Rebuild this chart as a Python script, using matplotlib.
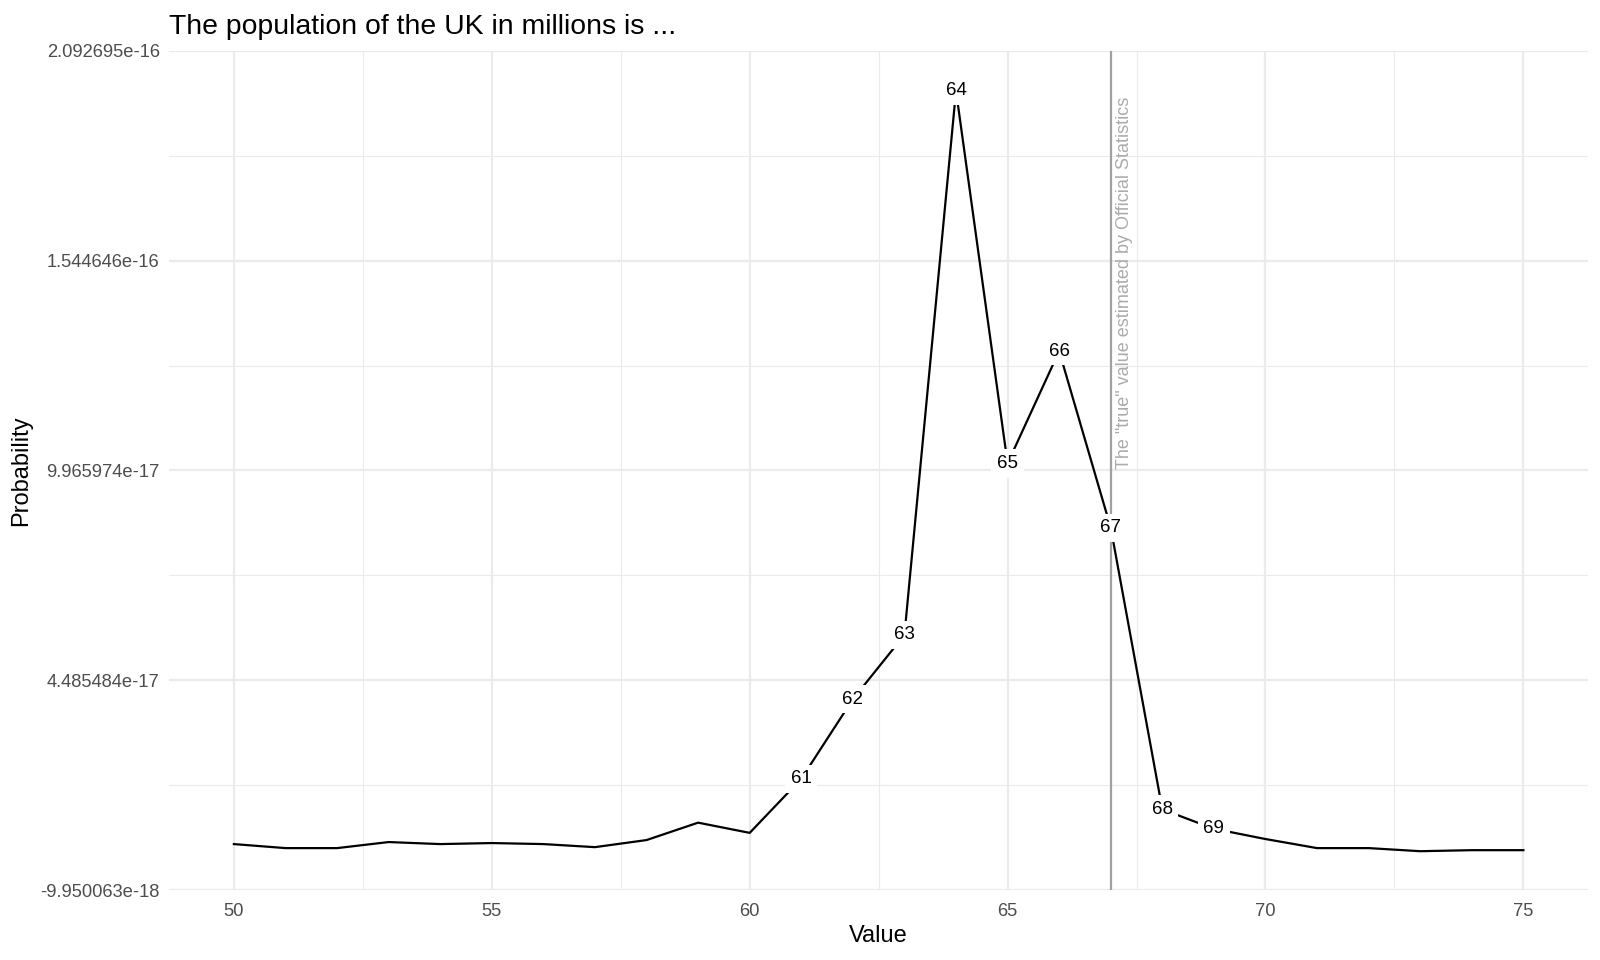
import matplotlib.pyplot as plt
from matplotlib.ticker import FixedLocator

plt.rcParams['font.family'] = ['Liberation Sans', 'DejaVu Sans']

# guesses (millions) and their probability
values = [50, 51, 52, 53, 54, 55, 56, 57, 58, 59, 60, 61, 62,
          63, 64, 65, 66, 67, 68, 69, 70, 71, 72, 73, 74, 75]
probs = [2.05e-18, 1.0e-18, 1.0e-18, 2.58e-18, 2.05e-18, 2.32e-18, 2.05e-18,
         1.25e-18, 3.1e-18, 7.65e-18, 4.98e-18, 1.91e-17, 3.99e-17,
         5.67e-17, 1.9886e-16, 1.0152e-16, 1.3084e-16, 8.47e-17, 1.112e-17,
         6.05e-18, 3.37e-18, 1.0e-18, 1.0e-18, 1.9e-19, 4.6e-19, 4.6e-19]
labelled = [61, 62, 63, 64, 65, 66, 67, 68, 69]

y_ticks = [-9.950063e-18, 4.485484e-17, 9.965974e-17, 1.544646e-16, 2.092695e-16]
y_tick_labels = ["-9.950063e-18", "4.485484e-17", "9.965974e-17",
                 "1.544646e-16", "2.092695e-16"]
x_ticks = [50, 55, 60, 65, 70, 75]
true_value = 67
true_text = 'The "true" value estimated by Official Statistics'

fig = plt.figure(figsize=(16, 9.6), dpi=100)
ax = fig.add_axes([0.1059, 0.0729, 0.8865, 0.874])

ax.set_xlim(48.75, 76.25)
ax.set_ylim(y_ticks[0], y_ticks[-1])

# grid like theme_minimal
ax.xaxis.set_major_locator(FixedLocator(x_ticks))
ax.xaxis.set_minor_locator(FixedLocator([47.5 + 5 * i for i in range(1, 7)]))
ax.yaxis.set_major_locator(FixedLocator(y_ticks))
ax.yaxis.set_minor_locator(FixedLocator(
    [(a + b) / 2 for a, b in zip(y_ticks[:-1], y_ticks[1:])]))
ax.set_yticklabels(y_tick_labels)
ax.grid(which='major', color='#EBEBEB', linewidth=1.6, zorder=0)
ax.grid(which='minor', color='#EBEBEB', linewidth=0.8, zorder=0)
ax.set_axisbelow(True)
for s in ax.spines.values():
    s.set_visible(False)
ax.tick_params(which='both', length=0, labelsize=13.2, labelcolor='#4D4D4D')
ax.tick_params(axis='x', pad=9)
ax.tick_params(axis='y', pad=7)

ax.axvline(true_value, color='#A0A0A0', linewidth=1.6, zorder=2)
ax.text(true_value + 0.27, 1.0e-16, true_text, rotation=90, ha='center',
        va='bottom', color='#ABABAB', fontsize=13, zorder=2)

ax.plot(values, probs, color='black', linewidth=1.6, zorder=3)

for v, p in zip(values, probs):
    if v in labelled:
        ax.text(v, p, str(v), ha='center', va='center', fontsize=13.5,
                color='black', zorder=4,
                bbox=dict(facecolor='white', edgecolor='none', pad=4))

ax.set_xlabel('Value', fontsize=17, labelpad=4)
ax.set_ylabel('Probability', fontsize=17, labelpad=6)
ax.set_title('The population of the UK in millions is ...', fontsize=20.4,
             loc='left', pad=12)

fig.savefig('out.png', dpi=100, facecolor='white')
